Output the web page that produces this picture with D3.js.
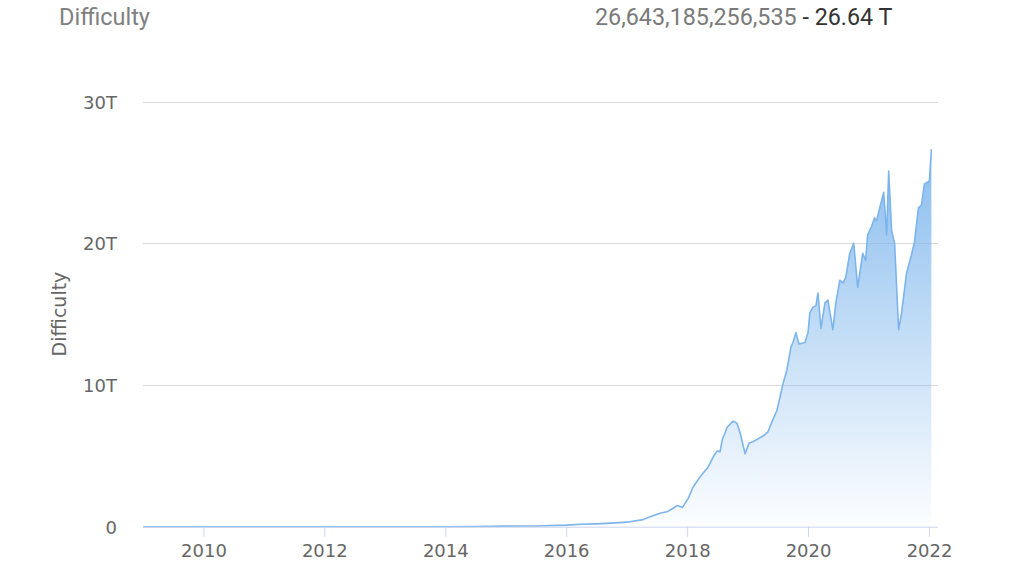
<!DOCTYPE html>
<html>
<head>
<meta charset="utf-8">
<script src="https://cdn.jsdelivr.net/npm/d3@7"></script>
<style>
  html, body { margin: 0; padding: 0; background: #ffffff; }
  svg { display: block; }
</style>
</head>
<body>
<svg id="chart" width="1024" height="576"></svg>
<script>
// ---- data (difficulty in trillions, T) ----
const dates = [
  "2009-01-03","2010-01-01","2010-07-01","2011-01-01","2011-07-01","2012-01-01","2012-07-01",
  "2013-01-01","2013-07-01","2014-01-01","2014-07-01","2015-01-01","2015-07-01","2016-01-01",
  "2016-04-01","2016-07-01","2016-10-01","2017-01-01","2017-04-10","2017-05-22","2017-07-20",
  "2017-09-01","2017-10-01","2017-11-02","2017-12-03","2018-01-07","2018-02-06","2018-03-19",
  "2018-05-07","2018-06-06","2018-07-01","2018-07-19","2018-07-31","2018-08-17","2018-08-29",
  "2018-10-05","2018-10-29","2018-11-17","2018-12-17","2019-01-10","2019-02-03","2019-03-04",
  "2019-04-04","2019-05-04","2019-05-28","2019-06-27","2019-07-15","2019-08-03","2019-08-27",
  "2019-09-20","2019-10-02","2019-10-20","2019-11-07","2019-12-13","2020-01-01","2020-01-12",
  "2020-01-31","2020-02-18","2020-03-01","2020-03-19","2020-04-12","2020-04-30","2020-05-30",
  "2020-06-17","2020-07-11","2020-07-29","2020-08-16","2020-09-09","2020-10-03","2020-10-27",
  "2020-11-26","2020-12-14","2020-12-26","2021-01-19","2021-02-06","2021-02-18","2021-03-09",
  "2021-04-02","2021-04-20","2021-05-02","2021-05-20","2021-06-07","2021-07-01","2021-07-19",
  "2021-08-18","2021-09-17","2021-10-05","2021-10-29","2021-11-16","2021-12-04","2022-01-03",
  "2022-01-15"
];
const difficultyT = [
  0.000000000001,0.0000000015,0.000000002,0.000000016,0.0000015,0.0000012,0.0000019,
  0.0000033,0.000026,0.0014,0.017,0.040,0.052,0.11,
  0.17,0.20,0.25,0.32,0.50,0.70,0.95,
  1.05,1.25,1.50,1.35,2.0,2.8,3.5,
  4.2,4.9,5.35,5.3,6.1,6.6,7.0,
  7.45,7.3,6.6,5.15,5.9,6.0,6.2,
  6.4,6.7,7.4,8.2,9.1,10.1,11.1,
  12.7,13.0,13.7,12.9,13.0,13.7,15.1,
  15.5,15.6,16.5,14.0,15.8,16.0,13.9,
  15.8,17.4,17.2,17.6,19.3,20.0,16.9,
  19.3,18.8,20.6,21.2,21.8,21.6,22.5,
  23.6,20.6,25.1,20.9,20.0,13.9,15.1,
  17.9,19.2,20.1,22.5,22.7,24.2,24.4,
  26.64
];
const yTickValues = [0, 10, 20, 30];
const yTickLabels = ["0", "10T", "20T", "30T"];
const xTickYears = [2010, 2012, 2014, 2016, 2018, 2020, 2022];
const titleText = "Difficulty";
const yAxisTitle = "Difficulty";
const latestRaw = "26,643,185,256,535";
const latestShort = "26.64 T";

// ---- layout ----
const svg = d3.select("#chart");
const plot = { left: 143, right: 938, top: 101.7, bottom: 526.7 };
const parse = d3.utcParse("%Y-%m-%d");
const data = dates.map((d, i) => ({ date: parse(d), v: difficultyT[i] }));

const x = d3.scaleUtc()
  .domain([parse("2009-01-01"), parse("2022-02-24")])
  .range([plot.left, plot.right]);
const y = d3.scaleLinear().domain([0, 30]).range([plot.bottom, plot.top]);

// gradient
const defs = svg.append("defs");
const grad = defs.append("linearGradient")
  .attr("id", "areaGrad")
  .attr("gradientUnits", "userSpaceOnUse")
  .attr("x1", 0).attr("x2", 0)
  .attr("y1", y(26.64)).attr("y2", y(0));
grad.append("stop").attr("offset", 0).attr("stop-color", "#7cb5ec").attr("stop-opacity", 0.9);
grad.append("stop").attr("offset", 0.5).attr("stop-color", "#7cb5ec").attr("stop-opacity", 0.45);
grad.append("stop").attr("offset", 1).attr("stop-color", "#7cb5ec").attr("stop-opacity", 0.02);

// gridlines (y axis)
const yAxis = d3.axisLeft(y)
  .tickValues(yTickValues)
  .tickSize(-(plot.right - plot.left))
  .tickFormat((d, i) => yTickLabels[i]);
const gy = svg.append("g")
  .attr("transform", `translate(${plot.left},0)`)
  .call(yAxis);
gy.select(".domain").remove();
gy.selectAll(".tick line")
  .attr("stroke", "#dadada")
  .attr("stroke-width", 1)
  .attr("shape-rendering", "crispEdges")
  .filter(d => d === 0).remove();
gy.selectAll(".tick text")
  .attr("x", -26)
  .attr("dy", "0.35em")
  .attr("fill", "#666666")
  .style("font-family", "'DejaVu Sans', sans-serif")
  .style("font-size", "18px");

// area + line
const area = d3.area()
  .x(d => x(d.date))
  .y0(y(0))
  .y1(d => y(d.v));
const line = d3.line()
  .x(d => x(d.date))
  .y(d => y(d.v));

svg.append("path")
  .datum(data)
  .attr("d", area)
  .attr("fill", "url(#areaGrad)");

svg.append("path")
  .datum(data)
  .attr("d", line)
  .attr("fill", "none")
  .attr("stroke", "#7cb5ec")
  .attr("stroke-width", 1.6)
  .attr("stroke-linejoin", "round");

// x axis
const xAxis = d3.axisBottom(x)
  .tickValues(xTickYears.map(yr => new Date(Date.UTC(yr, 0, 1))))
  .tickSize(10)
  .tickPadding(8)
  .tickFormat(d3.utcFormat("%Y"));
const gx = svg.append("g")
  .attr("transform", `translate(0,${plot.bottom})`)
  .call(xAxis);
gx.select(".domain")
  .attr("stroke", "#ccd6eb")
  .attr("d", `M${plot.left},0.5H${plot.right}`);
gx.selectAll(".tick line").attr("stroke", "#ccd6eb");
gx.selectAll(".tick text")
  .attr("fill", "#666666")
  .style("font-family", "'DejaVu Sans', sans-serif")
  .style("font-size", "18px");

// y axis title
svg.append("text")
  .attr("transform", `translate(66,314) rotate(-90)`)
  .attr("text-anchor", "middle")
  .attr("fill", "#666666")
  .style("font-family", "'DejaVu Sans', sans-serif")
  .style("font-size", "19px")
  .text(yAxisTitle);

// header texts
svg.append("text")
  .attr("x", 59).attr("y", 25)
  .attr("fill", "#808080")
  .style("font-family", "Roboto, sans-serif")
  .style("font-size", "23.5px")
  .text(titleText);

const head = svg.append("text")
  .attr("x", 595).attr("y", 25)
  .style("font-family", "Roboto, sans-serif")
  .style("font-size", "23.3px");
head.append("tspan").attr("fill", "#7a7a7a").text(latestRaw);
head.append("tspan").attr("fill", "#333333").text(" - " + latestShort);
</script>
</body>
</html>
